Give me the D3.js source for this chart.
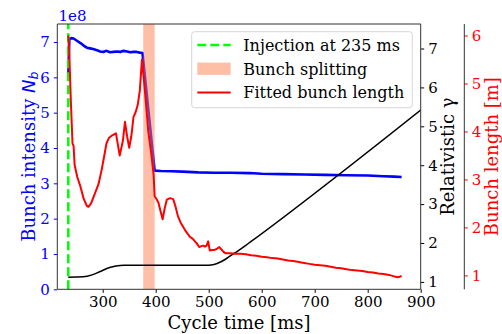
<!DOCTYPE html>
<html>
<head>
<meta charset="utf-8">
<script src="https://cdn.jsdelivr.net/npm/d3@7"></script>
<style>
  html, body { margin: 0; padding: 0; background: #fff; }
  svg { display: block; font-family: "DejaVu Serif", serif; }
</style>
</head>
<body>
<div id="chart"></div>
<script>
// cycle time [ms] / bunch intensity [1e8]
const intensityTime = [235, 237, 241, 245, 252, 258, 264, 270, 276, 282, 289, 295, 301, 307, 314, 320, 327, 333, 339, 346, 352, 358, 364, 370, 375,
  398, 410, 430, 450, 480, 510, 540, 577, 600, 640, 680, 720, 760, 800, 830, 850, 864];
const intensity = [6.0, 7.08, 7.11, 7.1, 7.03, 6.97, 6.9, 6.84, 6.82, 6.8, 6.77, 6.73, 6.72, 6.75, 6.71, 6.72, 6.73, 6.72, 6.75, 6.73, 6.71, 6.72, 6.72, 6.7, 6.69,
  3.36, 3.35, 3.34, 3.33, 3.31, 3.3, 3.3, 3.29, 3.27, 3.26, 3.25, 3.24, 3.23, 3.22, 3.2, 3.19, 3.18];

// cycle time [ms] / relativistic gamma
const gammaTime = [235, 263, 280, 294, 313, 325, 340, 500, 510, 520, 530, 540, 550, 560, 570, 580, 900];
const gamma = [1.12, 1.13, 1.18, 1.26, 1.37, 1.41, 1.43, 1.43, 1.45, 1.5, 1.57, 1.66, 1.75, 1.84, 1.94, 2.04, 5.42];

// cycle time [ms] / fitted bunch length [m]
const lengthTime = [235, 237, 240, 243, 245, 247, 252, 258, 264, 270, 273, 278, 285, 292, 298, 303, 307, 312, 318, 325,
  332, 338, 342, 346, 350, 354, 358, 362, 366, 370, 374, 380, 386, 392, 396, 398, 402, 405, 410, 413, 417, 421, 427,
  433, 437, 442, 448, 455, 460, 465, 470, 474, 478, 482, 486, 490, 493, 496, 499, 502, 506, 511, 516, 520, 524, 528,
  532, 540, 550, 560, 570, 580, 590, 600, 610, 620, 630, 640, 650, 660, 670, 680, 690, 700, 710, 720, 730, 740, 750,
  760, 770, 780, 790, 800, 810, 820, 830, 840, 850, 856, 860, 864];
const bunchLength = [6.0, 5.6, 4.6, 3.75, 3.7, 3.3, 3.05, 2.85, 2.6, 2.45, 2.43, 2.5, 2.7, 2.9, 3.2, 3.5, 3.75, 3.87, 3.92, 3.96,
  3.5, 3.8, 4.2, 3.9, 3.66, 3.9, 4.3, 4.4, 4.55, 4.85, 5.5, 4.8, 4.0, 3.5, 3.1, 2.65, 2.58, 2.52, 2.3, 2.17, 2.4, 2.58, 2.61,
  2.59, 2.45, 2.23, 2.08, 1.95, 1.87, 1.8, 1.76, 1.71, 1.66, 1.59, 1.61, 1.62, 1.6, 1.62, 1.71, 1.52, 1.53, 1.53, 1.56, 1.59, 1.54, 1.49,
  1.46, 1.46, 1.45, 1.45, 1.44, 1.42, 1.41, 1.39, 1.38, 1.36, 1.35, 1.33, 1.31, 1.3, 1.28, 1.26, 1.24, 1.22, 1.21, 1.2, 1.18, 1.16, 1.15,
  1.13, 1.11, 1.1, 1.09, 1.07, 1.06, 1.04, 1.03, 1.01, 0.98, 0.96, 0.97, 0.99];

const injectionTime = 235;
const splitting = [376.5, 398];

const xTicks = [300, 400, 500, 600, 700, 800, 900];
const intensityTicks = [0, 1, 2, 3, 4, 5, 6, 7];
const gammaTicks = [1, 2, 3, 4, 5, 6, 7];
const lengthTicks = [1, 2, 3, 4, 5, 6];

const legendItems = ['Injection at 235 ms', 'Bunch splitting', 'Fitted bunch length'];

const width = 502;
const height = 334;
const plot = { left: 57.3, right: 420.7, top: 24, bottom: 289.3 };
const lengthAxisX = 464.3;

const svg = d3.select('#chart')
  .append('svg')
  .attr('width', width)
  .attr('height', height);

const x = d3.scaleLinear().domain([214.3, 900]).range([plot.left, plot.right]);
const yN = d3.scaleLinear().domain([0, 7.51]).range([plot.bottom, plot.top]);
const yG = d3.scaleLinear().domain([0.81, 7.63]).range([plot.bottom, plot.top]);
const yL = d3.scaleLinear().domain([0.71, 6.24]).range([plot.bottom, plot.top]);

svg.append('defs').append('clipPath').attr('id', 'clip')
  .append('rect')
  .attr('x', plot.left).attr('y', plot.top)
  .attr('width', plot.right - plot.left).attr('height', plot.bottom - plot.top);

const marks = svg.append('g').attr('clip-path', 'url(#clip)');

// intensity (left axis)
marks.append('path')
  .datum(d3.zip(intensityTime, intensity))
  .attr('fill', 'none')
  .attr('stroke', '#0000ff')
  .attr('stroke-width', 2.6)
  .attr('stroke-linejoin', 'round')
  .attr('d', d3.line().x((d) => x(d[0])).y((d) => yN(d[1])));

marks.append('line')
  .attr('x1', x(injectionTime)).attr('x2', x(injectionTime))
  .attr('y1', plot.bottom).attr('y2', plot.top)
  .attr('stroke', '#00ff00')
  .attr('stroke-width', 2.6)
  .attr('stroke-dasharray', '9,4');

marks.append('rect')
  .attr('x', x(splitting[0]))
  .attr('width', x(splitting[1]) - x(splitting[0]))
  .attr('y', plot.top)
  .attr('height', plot.bottom - plot.top)
  .attr('fill', '#ff7f50')
  .attr('fill-opacity', 0.5);

// gamma (first right axis)
marks.append('path')
  .datum(d3.zip(gammaTime, gamma))
  .attr('fill', 'none')
  .attr('stroke', '#000')
  .attr('stroke-width', 1.5)
  .attr('d', d3.line().curve(d3.curveMonotoneX).x((d) => x(d[0])).y((d) => yG(d[1])));

// bunch length (second right axis)
marks.append('path')
  .datum(d3.zip(lengthTime, bunchLength))
  .attr('fill', 'none')
  .attr('stroke', '#ff0000')
  .attr('stroke-width', 2)
  .attr('stroke-linejoin', 'round')
  .attr('d', d3.line().x((d) => x(d[0])).y((d) => yL(d[1])));

// axes
const tickFont = 15;
const intFormat = d3.format('d');

const xAxis = svg.append('g')
  .attr('transform', `translate(0,${plot.bottom})`)
  .call(d3.axisBottom(x).tickValues(xTicks).tickFormat(intFormat).tickSize(3.5).tickPadding(4).tickSizeOuter(0));
xAxis.selectAll('text').attr('font-size', tickFont).attr('fill', '#000').attr('font-family', 'DejaVu Serif');

const leftAxis = svg.append('g')
  .attr('transform', `translate(${plot.left},0)`)
  .call(d3.axisLeft(yN).tickValues(intensityTicks).tickFormat(intFormat).tickSize(3.5).tickPadding(4).tickSizeOuter(0));
leftAxis.selectAll('text').attr('font-size', tickFont).attr('fill', '#0000ff').attr('font-family', 'DejaVu Serif');
leftAxis.selectAll('.tick line').attr('stroke', '#0000ff');

const gammaAxis = svg.append('g')
  .attr('transform', `translate(${plot.right},0)`)
  .call(d3.axisRight(yG).tickValues(gammaTicks).tickFormat(intFormat).tickSize(3.5).tickPadding(4).tickSizeOuter(0));
gammaAxis.selectAll('text').attr('font-size', tickFont).attr('fill', '#000').attr('font-family', 'DejaVu Serif');

const lengthAxis = svg.append('g')
  .attr('transform', `translate(${lengthAxisX},0)`)
  .call(d3.axisRight(yL).tickValues(lengthTicks).tickFormat(intFormat).tickSize(3.5).tickPadding(4).tickSizeOuter(0));
lengthAxis.selectAll('text').attr('font-size', tickFont).attr('fill', '#ff0000').attr('font-family', 'DejaVu Serif');
lengthAxis.selectAll('.tick line').attr('stroke', '#ff0000');

svg.selectAll('.domain').remove();

// spines
const spines = [
  [plot.left, plot.top, plot.left, plot.bottom],
  [plot.right, plot.top, plot.right, plot.bottom],
  [plot.left, plot.top, plot.right, plot.top],
  [plot.left, plot.bottom, plot.right, plot.bottom],
  [lengthAxisX, plot.top, lengthAxisX, plot.bottom],
];
svg.append('g')
  .selectAll('line')
  .data(spines)
  .join('line')
  .attr('x1', (d) => d[0]).attr('y1', (d) => d[1])
  .attr('x2', (d) => d[2]).attr('y2', (d) => d[3])
  .attr('stroke', '#333')
  .attr('stroke-width', 1);

// offset text
svg.append('text')
  .attr('x', 58.5).attr('y', 21)
  .attr('font-size', tickFont)
  .attr('fill', '#0000ff')
  .text('1e8');

// axis labels
const labelFont = 18;
svg.append('text')
  .attr('x', (plot.left + plot.right) / 2).attr('y', 329)
  .attr('text-anchor', 'middle')
  .attr('font-size', labelFont)
  .text('Cycle time [ms]');

const nLabel = svg.append('text')
  .attr('transform', `translate(35,${(plot.top + plot.bottom) / 2}) rotate(-90)`)
  .attr('text-anchor', 'middle')
  .attr('font-size', labelFont)
  .attr('fill', '#0000ff');
nLabel.append('tspan').text('Bunch intensity ');
nLabel.append('tspan').attr('font-style', 'italic').attr('font-family', 'DejaVu Sans').text('N');
nLabel.append('tspan').attr('font-style', 'italic').attr('font-family', 'DejaVu Sans')
  .attr('font-size', 12.5).attr('dy', 3).text('b');

svg.append('text')
  .attr('transform', `translate(454,${(plot.top + plot.bottom) / 2}) rotate(-90)`)
  .attr('text-anchor', 'middle')
  .attr('font-size', labelFont)
  .attr('fill', '#000')
  .text('Relativistic γ');

svg.append('text')
  .attr('transform', `translate(498,${(plot.top + plot.bottom) / 2}) rotate(-90)`)
  .attr('text-anchor', 'middle')
  .attr('font-size', labelFont)
  .attr('fill', '#ff0000')
  .text('Bunch length [m]');

// legend
const legend = svg.append('g');
legend.append('rect')
  .attr('x', 191.7).attr('y', 31.7)
  .attr('width', 220.6).attr('height', 76)
  .attr('rx', 3)
  .attr('fill', '#fff').attr('fill-opacity', 0.8)
  .attr('stroke', '#d6d6d6');

const rowY = (i) => 45 + i * 23.8;
legend.append('line')
  .attr('x1', 197.3).attr('x2', 230.7)
  .attr('y1', rowY(0)).attr('y2', rowY(0))
  .attr('stroke', '#00ff00').attr('stroke-width', 2.6).attr('stroke-dasharray', '9,4');
legend.append('rect')
  .attr('x', 197.3).attr('y', rowY(1) - 6.2)
  .attr('width', 33.4).attr('height', 12.3)
  .attr('fill', '#ff7f50').attr('fill-opacity', 0.5);
legend.append('line')
  .attr('x1', 197.3).attr('x2', 230.7)
  .attr('y1', rowY(2)).attr('y2', rowY(2))
  .attr('stroke', '#ff0000').attr('stroke-width', 2);

legend.selectAll('text.item')
  .data(legendItems)
  .join('text')
  .attr('class', 'item')
  .attr('x', 243.3)
  .attr('y', (_, i) => rowY(i))
  .attr('dy', '0.36em')
  .attr('font-size', 16)
  .text((d) => d);
</script>
</body>
</html>
